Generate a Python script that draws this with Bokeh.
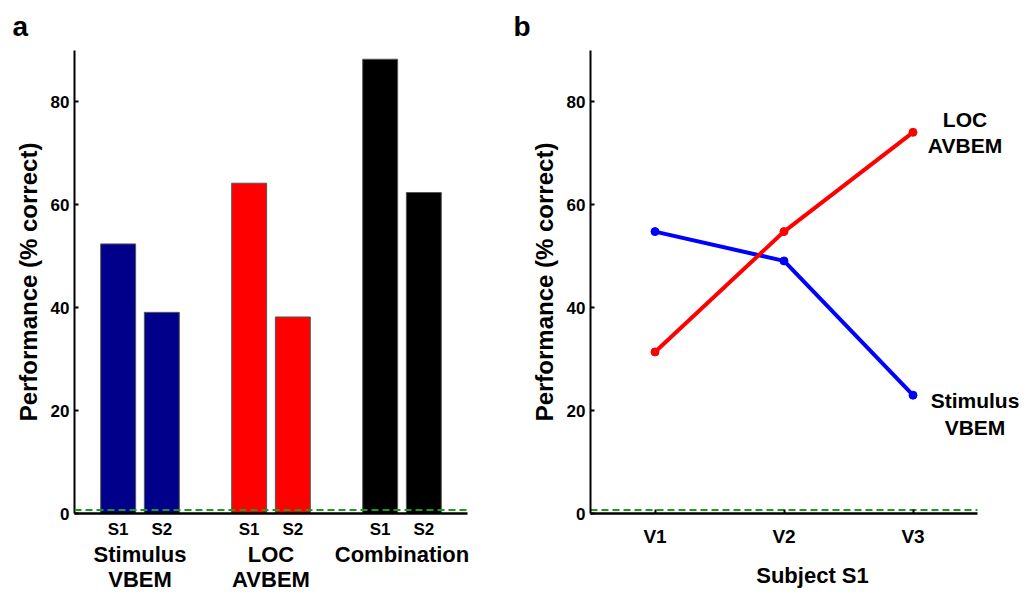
from bokeh.plotting import figure
from bokeh.models import FactorRange, Range1d, Span, Label, ColumnDataSource, FixedTicker
from bokeh.layouts import row
from bokeh.embed import file_html
from bokeh.resources import INLINE

# ---- data ----
groups = ["Stimulus\nVBEM", "LOC\nAVBEM", "Combination"]
subjects = ["S1", "S2"]
bar_values = [52.4, 39.1, 64.2, 38.2, 88.3, 62.4]
bar_colors = ["#00008b", "#00008b", "#ff0000", "#ff0000", "#000000", "#000000"]
chance = 0.7

views = ["V1", "V2", "V3"]
stim_vbem = [54.8, 49.1, 23.0]
loc_avbem = [31.4, 54.8, 74.1]
y_ticks = [0, 20, 40, 60, 80]

FONT = "Liberation Sans"
ylabel = "Performance (% correct)"
H = 594
TOP, BOTTOM = 49, 81
CHANCE_COLOR = "#1f9a1f"

def style_common(p, panel_letter, title_offset):
    p.xgrid.visible = False
    p.ygrid.visible = False
    p.outline_line_color = None
    p.background_fill_color = "white"
    p.border_fill_color = "white"
    p.title.text = panel_letter
    p.title.align = "left"
    p.title.offset = title_offset
    p.title.text_font = FONT
    p.title.text_font_style = "bold"
    p.title.text_font_size = "28px"
    p.title.text_color = "black"
    p.title.standoff = 17
    ya = p.yaxis[0]
    ya.ticker = y_ticks
    ya.minor_tick_line_color = None
    ya.major_tick_in = 4
    ya.major_tick_out = 0
    ya.major_tick_line_width = 2
    ya.axis_line_width = 2
    ya.major_label_text_font = FONT
    ya.major_label_text_font_style = "bold"
    ya.major_label_text_font_size = "17px"
    ya.major_label_text_color = "black"
    ya.major_label_standoff = 5
    ya.axis_label = ylabel
    ya.axis_label_text_font = FONT
    ya.axis_label_text_font_style = "bold"
    ya.axis_label_text_font_size = "24px"
    ya.axis_label_text_color = "black"
    ya.axis_label_standoff = 6
    xa = p.xaxis[0]
    xa.axis_line_width = 2.5
    xa.major_label_text_font = FONT
    xa.major_label_text_font_style = "bold"
    xa.major_label_text_color = "black"

# ---- panel a ----
factors = [(g, s) for g in groups for s in subjects]
src = ColumnDataSource(dict(x=factors, top=bar_values, color=bar_colors))
pa = figure(x_range=FactorRange(*factors, group_padding=1.0, factor_padding=0.0,
                                range_padding=0.5, range_padding_units="absolute"),
            y_range=Range1d(0, 90), width=508, height=H,
            output_backend="svg", toolbar_location=None,
            min_border_left=74, min_border_right=41, min_border_top=TOP,
            min_border_bottom=BOTTOM)
pa.vbar(x="x", top="top", width=0.8, fill_color="color", line_color="#555555",
        line_width=1, source=src)
style_common(pa, "a", -62)
pa.add_layout(Span(location=chance, dimension="width", line_color=CHANCE_COLOR,
                   line_dash="7 4", line_width=2))
xa = pa.xaxis[0]
xa.major_tick_line_color = None
xa.major_label_text_font_size = "17px"
xa.major_label_standoff = 0
xa.group_text_font = FONT
xa.group_text_font_style = "bold"
xa.group_text_font_size = "22px"
xa.group_text_line_height = 1.0
xa.group_text_color = "black"
xa.separator_line_color = None

# ---- panel b ----
view_pos = list(range(1, len(views) + 1))
px_per_view = 129
frame_b_width = 526 - 82
pb = figure(x_range=Range1d(view_pos[0] - 0.5, view_pos[0] - 0.5 + frame_b_width / px_per_view),
            y_range=Range1d(0, 90), width=526, height=H,
            output_backend="svg", toolbar_location=None,
            min_border_left=82, min_border_right=0, min_border_top=TOP,
            min_border_bottom=BOTTOM)
style_common(pb, "b", -77)
pb.segment(x0=[view_pos[0] - 0.5], x1=[view_pos[-1] + 0.5], y0=[chance], y1=[chance],
           line_color=CHANCE_COLOR, line_dash="7 4", line_width=2)
pb.line(view_pos, stim_vbem, line_color="#0000ff", line_width=4)
pb.scatter(view_pos, stim_vbem, size=8, color="#0000ff")
pb.line(view_pos, loc_avbem, line_color="#ff0000", line_width=4)
pb.scatter(view_pos, loc_avbem, size=8, color="#ff0000")
xb = pb.xaxis[0]
xb.bounds = (view_pos[0] - 0.5, view_pos[-1] + 0.5)
xb.ticker = FixedTicker(ticks=view_pos)
xb.minor_tick_line_color = None
xb.major_label_overrides = {v: t for v, t in zip(view_pos, views)}
xb.major_tick_in = 4
xb.major_tick_out = 0
xb.major_tick_line_width = 2
xb.major_label_text_font_size = "19px"
xb.major_label_standoff = 12
xb.axis_label = "Subject S1"
xb.axis_label_text_font = FONT
xb.axis_label_text_font_style = "bold"
xb.axis_label_text_font_size = "22px"
xb.axis_label_text_color = "black"
xb.axis_label_standoff = 13
pb.add_layout(Label(x=view_pos[-1], y=loc_avbem[-1], x_offset=52, text="LOC\nAVBEM",
                    text_align="center", text_baseline="middle",
                    text_font=FONT, text_font_style="bold", text_font_size="21px",
                    text_line_height=1.15, text_color="black"))
pb.add_layout(Label(x=view_pos[-1], y=stim_vbem[-1], x_offset=62, y_offset=-19,
                    text="Stimulus\nVBEM",
                    text_align="center", text_baseline="middle",
                    text_font=FONT, text_font_style="bold", text_font_size="21px",
                    text_line_height=1.15, text_color="black"))

layout = row(pa, pb)
open("out.html", "w").write(file_html(layout, INLINE))
